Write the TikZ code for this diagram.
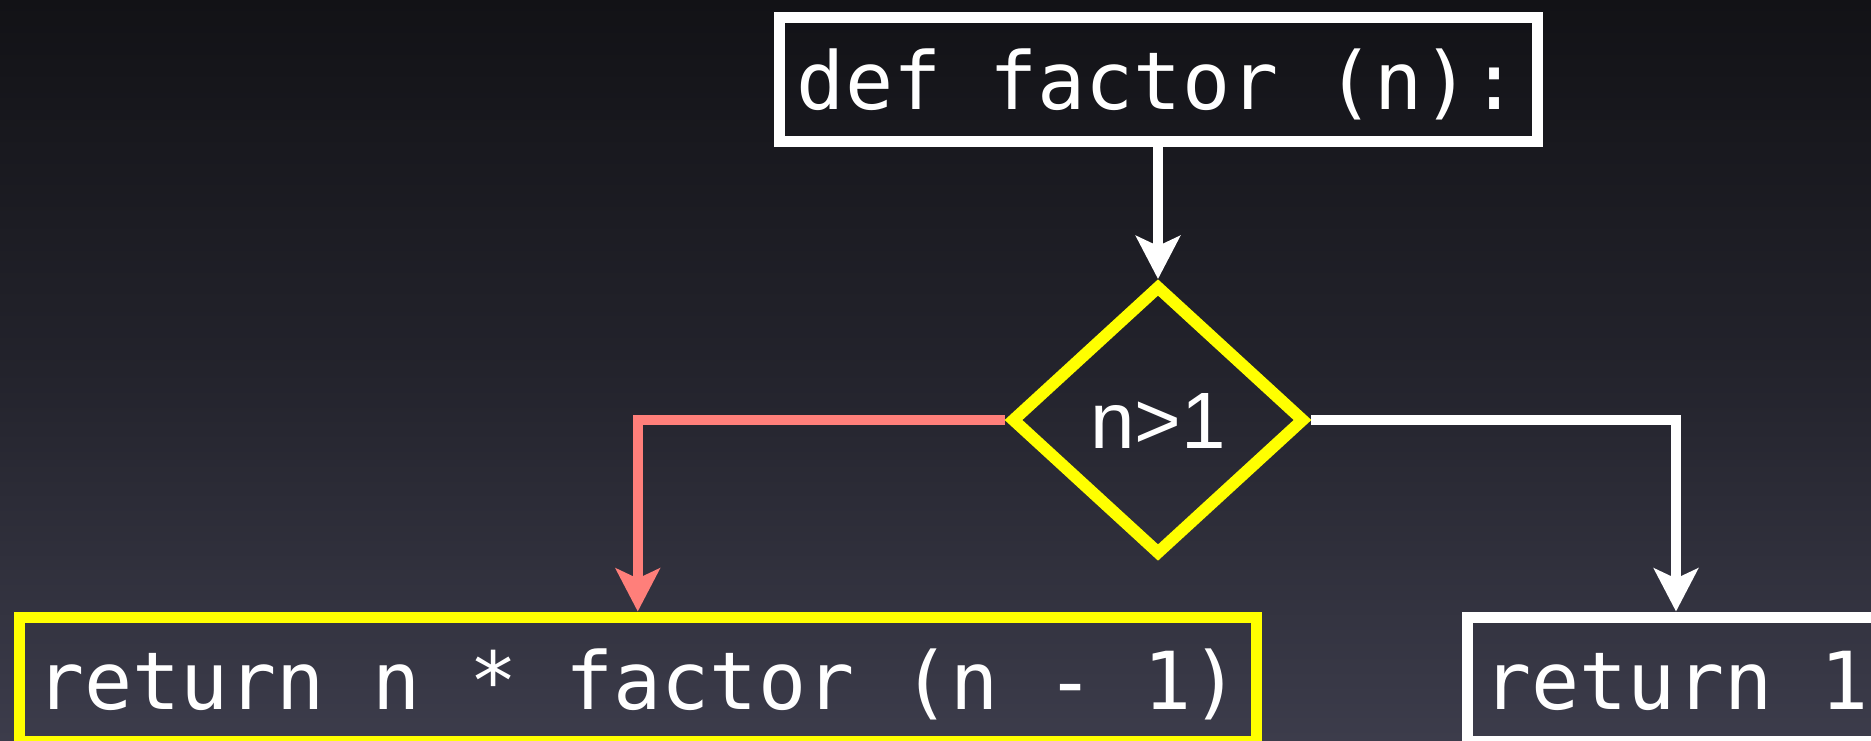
\documentclass[tikz,border=0pt]{standalone}
\usepackage{fontspec}
\usetikzlibrary{arrows.meta, shapes.geometric}
\newfontfamily\codefont{DejaVu Sans Mono}
\newfontfamily\testfont{Liberation Sans}
\definecolor{bgtop}{HTML}{121216}
\definecolor{bgmid}{HTML}{23232C}
\definecolor{bgbottom}{HTML}{3C3C4B}
\definecolor{loopline}{HTML}{FF7F7A}
\definecolor{hilite}{HTML}{FFFF00}
\tikzset{
  stmt/.style={rectangle, draw=white, line width=0.22cm, text=white, inner sep=0pt,
               minimum height=2.48cm, text height=1.22cm, text depth=0pt,
               font=\codefont\fontsize{45.5}{54}\selectfont},
  active/.style={stmt, draw=hilite},
  test/.style={diamond, draw=hilite, line width=0.24cm, text=white, inner sep=0pt,
               minimum width=5.88cm, minimum height=5.4cm, text height=1.15cm,
               text depth=0pt, font=\testfont\fontsize{45.5}{54}\selectfont},
  flow/.style={-{Stealth[length=0.86cm, width=0.88cm, inset=0.2cm]},
               line width=0.21cm, draw=white},
  recflow/.style={flow, draw=loopline},
}

\begin{document}
\begin{tikzpicture}

% Slide area, with the dark gradient behind everything
\useasboundingbox (0,0) rectangle (37.42,-14.8);
\clip (0,0) rectangle (37.42,-14.8);
\shade[top color=bgtop, bottom color=bgbottom, middle color=bgmid]
  (0,0) rectangle (37.42,-14.8);

% Function head and the test
\node[stmt, minimum width=15.16cm] (head) at (23.16,-1.58) {def factor (n):};
\node[test] (cond) at (23.16,-8.40) {n>1};

% The two branches; the right box runs off the slide edge
\node[active, minimum width=24.73cm] (recur) at (12.755,-13.58) {return n * factor (n - 1)};
\node[stmt, minimum width=8.34cm] (base) at (33.52,-13.58) {return 1};

% Flow
\draw[flow] (head) -- (cond);
\draw[recflow] (cond.west) -| (recur.north);
\draw[flow] (cond.east) -| (base.north);

\end{tikzpicture}
\end{document}
